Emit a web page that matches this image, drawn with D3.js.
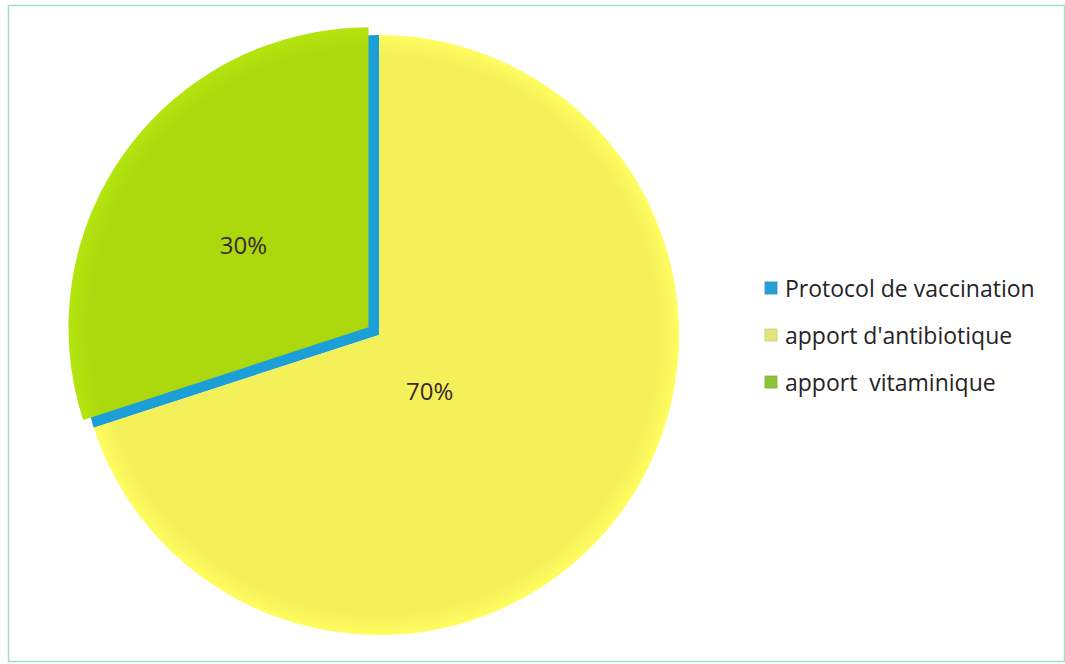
<!DOCTYPE html>
<html>
<head>
<meta charset="utf-8">
<script src="https://cdn.jsdelivr.net/npm/d3@7"></script>
<style>
  html, body { margin: 0; padding: 0; background: #fff; }
  svg { display: block; }
</style>
</head>
<body>
<script>
// Categories and their shares (percent)
const categories = ["Protocol de vaccination", "apport d'antibiotique", "apport  vitaminique"];
const values = [0, 70, 30];
const labels = ["", "70%", "30%"];
const colors = ["#1c9fd6", "#f3f05a", "#abd90e"];
const swatchColors = ["#2a9ed6", "#e4e47c", "#8dc53a"];

const W = 1065, H = 664;
const cx = 379, cy = 335, R = 300;
const explode = 13; // offset of the vitamin slice

const svg = d3.select("body").append("svg").attr("width", W).attr("height", H);

// soft radial shading for the slices (coordinates relative to the pie centre)
const defs = svg.append("defs");
colors.forEach((c, i) => {
  const g = defs.append("radialGradient").attr("id", "grad" + i)
    .attr("gradientUnits", "userSpaceOnUse").attr("cx", 0).attr("cy", 0).attr("r", R);
  g.append("stop").attr("offset", "0%").attr("stop-color", c);
  g.append("stop").attr("offset", "93%").attr("stop-color", c);
  g.append("stop").attr("offset", "100%").attr("stop-color", d3.color(c).brighter(0.15));
});

// outer frame
svg.append("rect").attr("x", 8.5).attr("y", 5.5).attr("width", W - 9).attr("height", H - 8)
  .attr("fill", "none").attr("stroke", "#a5dcc6").attr("stroke-width", 1.5);

const pie = d3.pie().sort(null).value(d => d.v).startAngle(0).endAngle(2 * Math.PI);
const data = categories.map((c, i) => ({ name: c, v: values[i], i }));
const arcs = pie(data);
const arc = d3.arc().innerRadius(0).outerRadius(R);

const g = svg.append("g").attr("transform", `translate(${cx},${cy})`);

// vitamin slice footprint shown in the vaccination colour beneath the exploded slice
const vit = arcs[2];
g.append("path").attr("d", arc(vit)).attr("fill", colors[0]);

arcs.forEach(a => {
  if (a.data.v <= 0) return;
  const mid = (a.startAngle + a.endAngle) / 2;
  const off = a.data.i === 2 ? explode : 0;
  const dx = Math.sin(mid) * off, dy = -Math.cos(mid) * off;
  g.append("path")
    .attr("d", arc(a))
    .attr("transform", `translate(${dx},${dy})`)
    .attr("fill", `url(#grad${a.data.i})`);
});

// percentage labels (radius fraction and angular nudge in radians)
const labelPlace = { 1: [0.25, 0.2], 2: [0.5, -0.04] };
arcs.forEach(a => {
  if (!labels[a.data.i]) return;
  const [frac, nudge] = labelPlace[a.data.i];
  const mid = (a.startAngle + a.endAngle) / 2 + nudge;
  const off = a.data.i === 2 ? explode : 0;
  const rr = R * frac + off;
  g.append("text")
    .attr("x", Math.sin(mid) * rr)
    .attr("y", -Math.cos(mid) * rr)
    .attr("text-anchor", "middle")
    .attr("dominant-baseline", "central")
    .attr("font-family", "'Open Sans', 'Noto Sans', sans-serif")
    .attr("font-size", 24)
    .attr("fill", "#3a2b2b")
    .text(labels[a.data.i]);
});

// legend
const legend = svg.append("g").attr("transform", "translate(765,288)");
categories.forEach((c, i) => {
  const row = legend.append("g").attr("transform", `translate(0,${i * 47})`);
  row.append("rect").attr("x", 0).attr("y", -6).attr("width", 12).attr("height", 12)
    .attr("fill", swatchColors[i]).attr("stroke", d3.color(swatchColors[i]).darker(0.3)).attr("stroke-width", 0.8);
  row.append("text").attr("x", 20).attr("y", 0)
    .attr("dominant-baseline", "central")
    .attr("font-family", "'Open Sans', 'Noto Sans', sans-serif")
    .attr("font-size", 23)
    .attr("fill", "#262327")
    .attr("xml:space", "preserve")
    .style("white-space", "pre")
    .text(c);
});
</script>
</body>
</html>
